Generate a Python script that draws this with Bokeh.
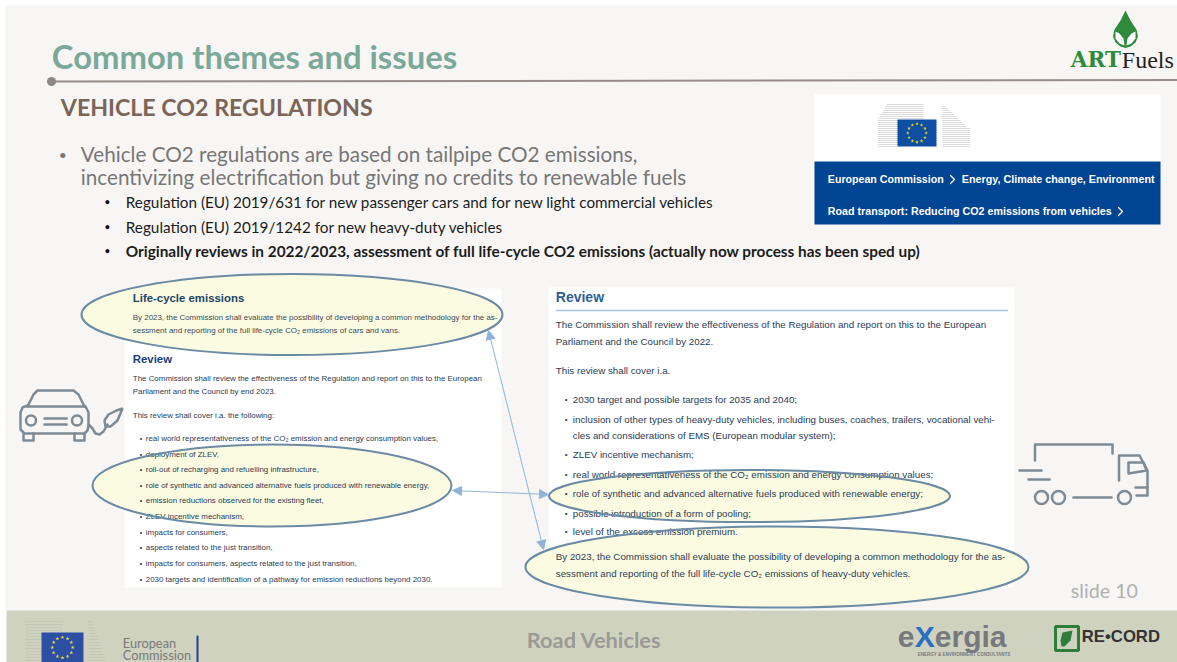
import math
from bokeh.plotting import figure
from bokeh.models import Range1d, Arrow, NormalHead
from bokeh.core.properties import value
from bokeh.embed import file_html
from bokeh.resources import INLINE

TITLE = "Common themes and issues"
SUBTITLE = "VEHICLE CO2 REGULATIONS"
MAIN_BULLET = ["Vehicle CO2 regulations are based on tailpipe CO2 emissions,",
               "incentivizing electrification but giving no credits to renewable fuels"]
SUB_BULLETS = ["Regulation (EU) 2019/631 for new passenger cars and for new light commercial vehicles",
               "Regulation (EU) 2019/1242 for new heavy-duty vehicles",
               "Originally reviews in 2022/2023, assessment of full life-cycle CO2 emissions (actually now process has been sped up)"]
LEFT_INTRO = ["By 2023, the Commission shall evaluate the possibility of developing a common methodology for the as-",
              "sessment and reporting of the full life-cycle CO₂ emissions of cars and vans."]
LEFT_REVIEW = ["The Commission shall review the effectiveness of the Regulation and report on this to the European",
               "Parliament and the Council by end 2023."]
LEFT_COVER = "This review shall cover i.a. the following:"
LEFT_ITEMS = ["real world representativeness of the CO₂ emission and energy consumption values,",
              "deployment of ZLEV,",
              "roll-out of recharging and refuelling infrastructure,",
              "role of synthetic and advanced alternative fuels produced with renewable energy,",
              "emission reductions observed for the existing fleet,",
              "ZLEV incentive mechanism,",
              "impacts for consumers,",
              "aspects related to the just transition,",
              "impacts for consumers, aspects related to the just transition,",
              "2030 targets and identification of a pathway for emission reductions beyond 2030."]
RIGHT_REVIEW = ["The Commission shall review the effectiveness of the Regulation and report on this to the European",
                "Parliament and the Council by 2022."]
RIGHT_COVER = "This review shall cover i.a."
RIGHT_ITEMS = ["2030 target and possible targets for 2035 and 2040;",
               "inclusion of other types of heavy-duty vehicles, including buses, coaches, trailers, vocational vehi-",
               "ZLEV incentive mechanism;",
               "real world representativeness of the CO₂ emission and energy consumption values;",
               "role of synthetic and advanced alternative fuels produced with renewable energy;",
               "possible introduction of a form of pooling;",
               "level of the excess emission premium."]
RIGHT_CONT = "cles and considerations of EMS (European modular system);"
RIGHT_END = ["By 2023, the Commission shall evaluate the possibility of developing a common methodology for the as-",
             "sessment and reporting of the full life-cycle CO₂ emissions of heavy-duty vehicles."]

p = figure(width=1177, height=662, x_range=Range1d(0, 1177), y_range=Range1d(662, 0),
           x_axis_location=None, y_axis_location=None, toolbar_location=None,
           output_backend="svg", min_border=0, outline_line_color=None,
           background_fill_color="white", border_fill_color="white")
p.grid.visible = False

SANS = "Liberation Sans"

def T(x, y, s, size, color, font=SANS, style="normal", align="left", alpha=1.0):
    p.text([x - 0.7], [y - 1.0], text=[s], text_font=value(font), text_font_size=f"{size}px",
           text_color=color, text_font_style=style, text_align=align,
           text_baseline="middle", text_alpha=alpha)

def box(x0, y0, x1, y1, color):
    p.quad(left=[x0], right=[x1], top=[y0], bottom=[y1], fill_color=color, line_color=None)

def stroke(xs, ys, color, w, alpha=1.0):
    p.line(xs, ys, line_color=color, line_width=w, line_alpha=alpha, line_cap="round", line_join="round")

def ring(x, y, r, color, w):
    p.circle([x], [y], radius=r, fill_color=None, line_color=color, line_width=w)

def flag(x0, y0, x1, y1, col, star):
    box(x0, y0, x1, y1, col)
    cx, cy = (x0 + x1) / 2, (y0 + y1) / 2
    r = (y1 - y0) * 0.34
    sx = [cx + r * math.cos(i * math.pi / 6) for i in range(12)]
    sy = [cy + r * math.sin(i * math.pi / 6) for i in range(12)]
    p.scatter(sx, sy, marker="star", size=(y1 - y0) * 0.14, fill_color=star, line_color=None)

# slide and footer
box(5, 5, 1177, 610, "#f7f6f5")
box(6, 610, 1177, 662, "#d0d2c0")

# header
T(52, 56.5, TITLE, 32.8, "#7aa99a", "Lato", "bold")
stroke([52, 1177], [81, 79.5], "#968d8b", 2)
p.circle([51], [81], radius=4.5, fill_color="#8f8785", line_color=None)
T(61, 107, SUBTITLE, 23.2, "#7b6558", "Lato", "bold")

# bullets
T(59, 155, "•", 14, "#777777", "Lato")
T(81, 154.5, MAIN_BULLET[0], 20.7, "#777777", "Lato")
T(81, 177, MAIN_BULLET[1], 20.7, "#777777", "Lato")
for y, s, st in zip([202, 227, 251], SUB_BULLETS, ["normal", "normal", "bold"]):
    T(105, y, "•", 9, "#111111", "Lato", "bold")
    T(126, y, s, 15.27 if st == "normal" else 15.35, "#1c1c1c", "Lato", st)

# EC box, top right
box(814, 94, 1160, 161, "#ffffff")
box(814, 161, 1160, 224, "#004494")
for i in range(22):
    y = 146 - i * 2
    x0 = 878 + max(0, (i - 14)) * 1.2
    x1 = 923 if i > 0 else 897
    p.line([x0, x1], [y, y], line_color="#dadada", line_width=1)
for i in range(22):
    y = 146 - i * 2
    p.line([942, 969 - max(0, i - 9) * 2.2], [y, y], line_color="#dadada", line_width=1)
flag(897, 119, 936, 146, "#0e4ea3", "#f2d91a")
T(828, 179, "European Commission", 10.65, "#ffffff", SANS, "bold")
stroke([950, 954, 950], [175, 179, 183], "#ffffff", 1.3)
T(962, 179, "Energy, Climate change, Environment", 10.75, "#ffffff", SANS, "bold")
T(828, 211, "Road transport: Reducing CO2 emissions from vehicles", 10.7, "#ffffff", SANS, "bold")
stroke([1118, 1122, 1118], [207, 211, 215], "#ffffff", 1.3)

# ARTFuels logo
p.patch([1125, 1130, 1136, 1137.5, 1135, 1130, 1125, 1120, 1115, 1112.5, 1114, 1120],
        [10, 20, 29, 36, 42, 46, 47.5, 46, 42, 36, 29, 20], fill_color="#2e8b3c", line_color=None)
p.patch([1124, 1123, 1119, 1115, 1115, 1119], [45, 38, 33, 31, 38, 43], fill_color="#ffffff", line_color=None)
p.patch([1126, 1127, 1131, 1135, 1135, 1131], [45, 38, 33, 31, 38, 43], fill_color="#ffffff", line_color=None)
T(1071, 60, "ART", 21.5, "#2e8b3c", "DejaVu Serif", "bold")
T(1122, 60, "Fuels", 24, "#222222", "Liberation Serif")

# left panel
box(124, 288, 501, 587, "#ffffff")
# right panel
box(548, 287, 1014, 587, "#ffffff")

# highlight ellipses (fill below the text, outline above it)
ex = [291.5, 271.5, 749, 776.5]
ey = [314, 485, 495.5, 566.5]
ew = [421, 359, 401, 503]
eh = [81, 82, 52, 81]
p.ellipse(ex, ey, width=ew, height=eh, fill_color="#fbfbe2", line_color=None)

T(133, 298, "Life-cycle emissions", 11.4, "#1d4468", SANS, "bold")
T(133, 318, LEFT_INTRO[0], 7.93, "#3a4a56")
T(133, 331, LEFT_INTRO[1], 7.93, "#3a4a56")
T(133, 359, "Review", 11.4, "#17407a", SANS, "bold")
T(133, 379, LEFT_REVIEW[0], 7.93, "#2a3c55")
T(133, 392, LEFT_REVIEW[1], 7.93, "#2a3c55")
T(133, 416, LEFT_COVER, 7.93, "#2a3c55")
for y, s in zip([439, 454.5, 470, 485.5, 501, 517, 533, 548, 564, 579.5], LEFT_ITEMS):
    T(140, y, "•", 7, "#2a3c55")
    T(146, y, s, 7.93, "#2a3c55")

T(556, 297, "Review", 14, "#2f5f93", SANS, "bold")
stroke([556, 1007], [310, 310], "#a9c4e0", 1.5)
T(556, 325, RIGHT_REVIEW[0], 9.77, "#2a3c55")
T(556, 342, RIGHT_REVIEW[1], 9.77, "#2a3c55")
T(556, 371, RIGHT_COVER, 9.77, "#2a3c55")
for y, s in zip([399.5, 419.5, 455, 475, 494, 513.5, 532], RIGHT_ITEMS):
    T(565, y, "•", 8, "#2a3c55")
    T(573, y, s, 9.77, "#2a3c55")
T(573, 436, RIGHT_CONT, 9.77, "#2a3c55")
T(556, 557, RIGHT_END[0], 9.77, "#2a3c55")
T(556, 574, RIGHT_END[1], 9.77, "#2a3c55")

p.ellipse(ex, ey, width=ew, height=eh, fill_color=None, line_color="#6b8aa3", line_width=2)

# arrows
arrow_col = "#8fb4d9"
for (x0, y0, x1, y1) in [(488, 330, 543, 549), (452, 490, 548, 494)]:
    p.add_layout(Arrow(x_start=x0, y_start=y0, x_end=x1, y_end=y1, line_color=arrow_col, line_width=1,
                       start=NormalHead(size=9, fill_color=arrow_col, line_color=arrow_col),
                       end=NormalHead(size=9, fill_color=arrow_col, line_color=arrow_col)))

# car icon
icon = "#7e8a94"
stroke([27, 33, 37, 73, 78, 84], [406, 394, 390, 390, 394, 406], icon, 2.5)
stroke([27, 22, 20, 20, 24, 84, 87, 88, 88, 85], [405, 407, 412, 429, 433, 433, 430, 425, 412, 406], icon, 2.5)
stroke([27, 84], [406, 406], icon, 2.5)
stroke([23, 23, 33, 33], [433, 440, 440, 433], icon, 2.5)
stroke([74, 74, 84, 84], [433, 440, 440, 433], icon, 2.5)
ring(30.5, 420, 5, icon, 2.5)
ring(76.5, 420, 5, icon, 2.5)
stroke([44, 66], [418, 418], icon, 2.5)
stroke([44, 66], [424, 424], icon, 2.5)
stroke([88, 92, 95, 99, 103, 107], [424, 428, 433, 434, 431, 424], icon, 2.5)
p.patch([122, 116, 108, 104, 105, 110, 117], [408, 410, 414, 420, 426, 426, 420],
        fill_color=None, line_color=icon, line_width=2.5)

# truck icon
stroke([1034.5, 1034.5, 1112, 1112], [460, 444, 444, 453], icon, 2.5)
stroke([1118.5, 1118.5, 1139, 1147, 1147, 1135], [480, 455, 455, 470, 487, 487], icon, 2.5)
stroke([1147, 1147, 1136], [487, 495, 495], icon, 2.5)
stroke([1128, 1143, 1146, 1128, 1128], [462, 462, 470, 473, 462], icon, 2.5)
stroke([1019, 1041], [470, 470], icon, 2.5)
stroke([1028, 1049], [479, 479], icon, 2.5)
stroke([1073, 1111], [497, 497], icon, 2.5)
for cx in [1041, 1058, 1124]:
    ring(cx, 497, 6.5, icon, 2.5)

T(1071, 591, "slide 10", 19.7, "#b0b0b0", "Lato")

# footer
for i in range(14):
    y = 660 - i * 3
    p.line([25, 62], [y, y], line_color="#c4c7b8", line_width=1)
    p.line([88, 105 - i], [y, y], line_color="#c4c7b8", line_width=1)
flag(41, 632, 83, 662, "#2c4fa3", "#e8d84a")
T(123, 643, "European", 12.8, "#7a7a78", "Lato")
T(123, 655.5, "Commission", 12.8, "#7a7a78", "Lato")
stroke([197, 197], [636, 661], "#1f3f8f", 2)
T(527, 640, "Road Vehicles", 21.8, "#9a9a96", "Lato", "bold")
T(898, 637, "e", 30, "#77797c", SANS, "bold")
T(915, 637, "X", 30, "#2a6fc0", SANS, "bold")
T(935, 637, "ergia", 30, "#77797c", SANS, "bold")
T(918, 655, "ENERGY & ENVIRONMENT CONSULTANTS", 4.5, "#77797c", SANS, "bold")
p.quad(left=[1055], right=[1078], top=[626], bottom=[650], fill_color="#d0d2c0", line_color="#2f7d3a", line_width=3)
p.patch([1072, 1062, 1060, 1061, 1064, 1070], [630, 632, 640, 646, 646, 640], fill_color="#2f7d3a", line_color=None)
T(1082, 637, "RE•CORD", 16.7, "#333333", SANS, "bold")

open("out.html", "w").write(file_html(p, INLINE))
